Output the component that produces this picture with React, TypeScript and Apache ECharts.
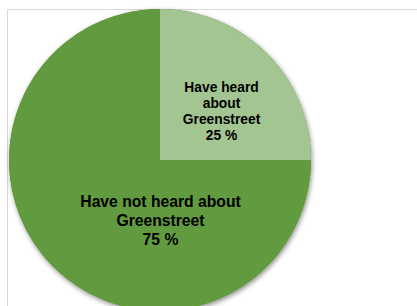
import React, { useEffect, useRef } from "react";
import * as echarts from "echarts";

const categories = ["Have heard\nabout\nGreenstreet", "Have not heard about\nGreenstreet"];
const values = [25, 75];
const colors = ["#A3C592", "#619A3F"];

export default function App() {
  const ref = useRef<HTMLDivElement>(null);
  useEffect(() => {
    document.body.style.margin = "0";
    const chart = echarts.init(ref.current!, undefined, { renderer: "svg" });
    chart.setOption({
      animation: false,
      backgroundColor: "#ffffff",
      graphic: [
        {
          type: "rect",
          shape: { x: 7.5, y: 9.5, width: 420, height: 310 },
          style: { fill: "none", stroke: "#D9D9D9", lineWidth: 1 },
          z: -10,
        },
      ],
      series: [
        {
          type: "pie",
          silent: true,
          center: [160, 160],
          radius: [0, 151],
          z: 1,
          label: { show: false },
          labelLine: { show: false },
          itemStyle: {
            color: "#619A3F",
            shadowBlur: 5,
            shadowOffsetX: 1,
            shadowOffsetY: 2,
            shadowColor: "rgba(0,0,0,0.45)",
          },
          data: [{ value: 1, name: "bg" }],
        },
        {
          type: "pie",
          center: [160, 160],
          radius: [0, 151],
          startAngle: 90,
          clockwise: true,
          z: 2,
          label: {
            show: true,
            position: "inside",
            color: "#000000",
            fontFamily: "Liberation Sans, Arial, sans-serif",
            fontWeight: "bold",
          },
          labelLine: { show: false },
          data: categories.map((name, i) => ({
            name,
            value: values[i],
            itemStyle: { color: colors[i] },
            label:
              i === 0
                ? { formatter: "{b}\n{c} %", fontSize: 13.8, lineHeight: 15.7, offset: [6, 7] }
                : { formatter: "{b}\n{c} %", fontSize: 15.7, lineHeight: 19, offset: [56, 5] },
          })),
        },
      ],
    });
    return () => chart.dispose();
  }, []);
  return <div ref={ref} style={{ width: 417, height: 306 }} />;
}
